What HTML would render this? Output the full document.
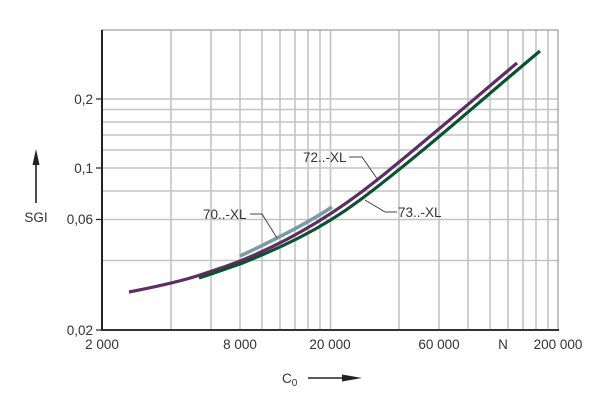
<!DOCTYPE html>
<html><head><meta charset="utf-8"><style>
html,body{margin:0;padding:0;background:#fff;}
svg{display:block;}
text{font-family:"Liberation Sans",sans-serif;font-size:13.5px;fill:#333;}
</style></head><body>
<svg width="600" height="408" viewBox="0 0 600 408" xmlns="http://www.w3.org/2000/svg">
<g stroke="#c4c4c4" stroke-width="1.6" fill="none">
<line x1="171" y1="30" x2="171" y2="330"/>
<line x1="211" y1="30" x2="211" y2="330"/>
<line x1="240" y1="30" x2="240" y2="330"/>
<line x1="262" y1="30" x2="262" y2="330"/>
<line x1="280" y1="30" x2="280" y2="330"/>
<line x1="295" y1="30" x2="295" y2="330"/>
<line x1="308" y1="30" x2="308" y2="330"/>
<line x1="320" y1="30" x2="320" y2="330"/>
<line x1="330.5" y1="30" x2="330.5" y2="330"/>
<line x1="399" y1="30" x2="399" y2="330"/>
<line x1="439" y1="30" x2="439" y2="330"/>
<line x1="468" y1="30" x2="468" y2="330"/>
<line x1="490" y1="30" x2="490" y2="330"/>
<line x1="508" y1="30" x2="508" y2="330"/>
<line x1="523" y1="30" x2="523" y2="330"/>
<line x1="536" y1="30" x2="536" y2="330"/>
<line x1="548" y1="30" x2="548" y2="330"/>
<line x1="102" y1="99" x2="558" y2="99"/>
<line x1="102" y1="109.5" x2="558" y2="109.5"/>
<line x1="102" y1="122" x2="558" y2="122"/>
<line x1="102" y1="135" x2="558" y2="135"/>
<line x1="102" y1="150" x2="558" y2="150"/>
<line x1="102" y1="168" x2="558" y2="168"/>
<line x1="102" y1="191" x2="558" y2="191"/>
<line x1="102" y1="219.5" x2="558" y2="219.5"/>
<line x1="102" y1="260.5" x2="558" y2="260.5"/>
</g>
<rect x="102" y="30" width="456" height="300" fill="none" stroke="#999" stroke-width="1.2"/>
<line x1="102" y1="30" x2="102" y2="331" stroke="#222" stroke-width="2"/>
<line x1="101" y1="330" x2="559" y2="330" stroke="#333" stroke-width="2"/>
<g stroke="#222" stroke-width="1.2">
<line x1="96" y1="99" x2="102" y2="99"/><line x1="96" y1="168" x2="102" y2="168"/>
<line x1="96" y1="219.5" x2="102" y2="219.5"/><line x1="96" y1="330" x2="102" y2="330"/>
</g>
<g text-anchor="end">
<text x="93" y="104">0,2</text><text x="93" y="173">0,1</text>
<text x="93" y="224">0,06</text><text x="93" y="335">0,02</text>
</g>
<g text-anchor="middle">
<text x="102" y="349">2 000</text><text x="240" y="349">8 000</text>
<text x="330" y="349">20 000</text><text x="439" y="349">60 000</text>
<text x="503" y="349">N</text><text x="558" y="349">200 000</text>
<text x="36" y="222">SGI</text>
</g>
<line x1="36" y1="203" x2="36" y2="162" stroke="#222" stroke-width="1.6"/>
<polygon points="36,149 32.5,165 39.5,165" fill="#222"/>
<text x="282" y="383">C<tspan font-size="10" dy="3">0</tspan></text>
<line x1="308" y1="378" x2="350" y2="378" stroke="#222" stroke-width="1.6"/>
<polygon points="362,378 342,374.5 342,381.5" fill="#222"/>
<g fill="none" stroke-linecap="butt">
<path d="M240,256 C270,242 305,225 332,207" stroke="#7a9aa6" stroke-width="3.5"/>
<path d="M129,292 C160,286 185,280 200,275 C215,270 228,266 240,261 C286,242.6 331,216.8 377,180 C424,142.4 470,102.5 517,63" stroke="#5b2f61" stroke-width="3.2"/>
<path d="M199,278 C215,273 228,268 240,264 C280,248 320,230 360,200 C420,155 480,101 540,51" stroke="#0c5230" stroke-width="3.2"/>
</g>
<g fill="none" stroke="#444" stroke-width="1">
<polyline points="349,157 362,157 378,180"/>
<polyline points="250,214 262,214 277,238"/>
<polyline points="397,212 385,212 365,200"/>
</g>
<text x="303" y="162">72..-XL</text>
<text x="203" y="219">70..-XL</text>
<text x="398" y="217">73..-XL</text>
</svg>
</body></html>
